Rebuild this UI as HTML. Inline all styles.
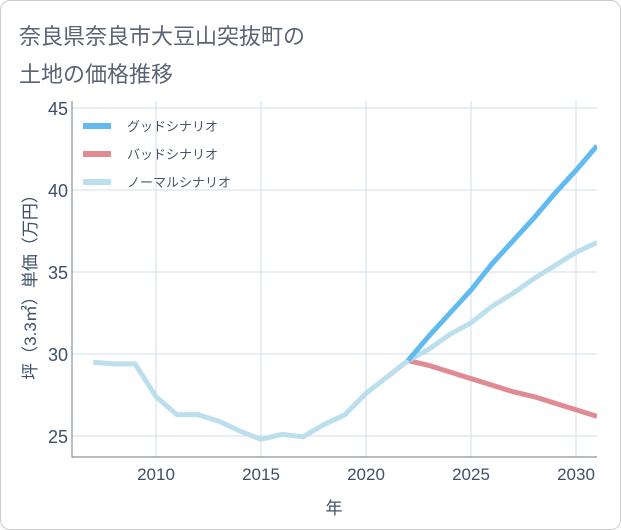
<!DOCTYPE html>
<html><head><meta charset="utf-8"><style>
body{margin:0;background:#fff;}
#card{position:absolute;left:0;top:0;width:619px;height:528px;border:1px solid #ccc;border-radius:10px;background:#fff;}
.title{position:absolute;left:18px;font:22px "Liberation Sans","Noto Sans CJK JP",sans-serif;color:#5a6474;}
text{font-family:"Liberation Sans","Noto Sans CJK JP",sans-serif;}
</style></head><body>
<div id="card">
<div class="title" style="top:18px">奈良県奈良市大豆山突抜町の</div>
<div class="title" style="top:56px">土地の価格推移</div>
</div>
<svg id="chart" width="621" height="530" style="position:absolute;left:0;top:0"></svg>
<script>
const years=[2007,2008,2009,2010,2011,2012,2013,2014,2015,2016,2017,2018,2019,2020,2021,2022,2023,2024,2025,2026,2027,2028,2029,2030,2031];
const normalVals=[29.5,29.4,29.4,27.4,26.3,26.3,25.9,25.3,24.8,25.1,24.95,25.7,26.3,27.6,28.6,29.6,30.3,31.2,31.9,32.9,33.7,34.6,35.4,36.2,36.8];
const goodYears=[2022,2023,2024,2025,2026,2027,2028,2029,2030,2031];
const goodVals=[29.6,31.1,32.5,33.9,35.5,36.9,38.3,39.8,41.2,42.7];
const badYears=[2021,2022,2023,2024,2025,2026,2027,2028,2029,2030,2031];
const badVals=[28.6,29.6,29.3,28.9,28.5,28.1,27.7,27.4,27.0,26.6,26.2];
const xTicks=[2010,2015,2020,2025,2030];
const yTicks=[25,30,35,40,45];
const L=72,R=597,T=101,B=457;
const x=v=>L+(v-2006)*21;
const y=v=>436-(v-25)*16.4;
const svg=document.getElementById('chart');
const NS='http://www.w3.org/2000/svg';
function mk(t,a){const e=document.createElementNS(NS,t);for(const k in a)e.setAttribute(k,a[k]);svg.appendChild(e);return e;}
for(const t of xTicks){
 const g=mk('line',{x1:x(t),x2:x(t),y1:T,y2:B,stroke:'#d3dde8','stroke-width':1});
 
 
 const lb=mk('text',{x:x(t),y:B+23,'text-anchor':'middle','font-size':17,fill:'#3e5068'});lb.textContent=t;
 
 
}
for(const t of yTicks){
 const g=mk('line',{x1:L,x2:R,y1:y(t),y2:y(t),stroke:'#d3dde8','stroke-width':1});
 
 
 const lb=mk('text',{x:L-4,y:y(t)+7,'text-anchor':'end','font-size':18,fill:'#3e5068'});lb.textContent=t;
 
 
}
const ax=mk('path',{d:`M${L} ${T}V${B}H${R}`,stroke:'#8a929c','stroke-width':1.2,fill:'none'});


function line(xs,vs,c,name){
 const p=mk('polyline',{points:xs.map((v,i)=>x(v)+','+y(vs[i])).join(' '),fill:'none',stroke:c,'stroke-width':5,'stroke-linejoin':'round'});
 
 
}
const clip=mk('clipPath',{id:'c'});const cr=document.createElementNS(NS,'rect');
cr.setAttribute('x',L);cr.setAttribute('y',T);cr.setAttribute('width',R-L);cr.setAttribute('height',B-T);clip.appendChild(cr);
line(badYears,badVals,'#e08a94','bad-scenario-line');
line(years,normalVals,'#bcdfee','normal-scenario-line');
line(goodYears,goodVals,'#62bbf0','good-scenario-line');
document.querySelectorAll('polyline').forEach(p=>p.setAttribute('clip-path','url(#c)'));
const leg=[['グッドシナリオ','#62bbf0'],['バッドシナリオ','#e08a94'],['ノーマルシナリオ','#bcdfee']];
leg.forEach((l,i)=>{
 const yy=126+i*28;
 const s=mk('line',{x1:83,x2:111,y1:yy,y2:yy,stroke:l[1],'stroke-width':6});
 
 
 const t=mk('text',{x:127,y:yy+5,'font-size':13,fill:'#4a5668'});t.textContent=l[0];
 
 
});
const xt=mk('text',{x:334,y:514,'text-anchor':'middle','font-size':17,fill:'#3e5068'});xt.textContent='年';


const yt=mk('text',{x:0,y:0,'text-anchor':'middle','font-size':17,fill:'#3e5068',transform:'translate(36,283) rotate(-90)'});yt.textContent='坪（3.3㎡）単価（万円）';


</script>
</body></html>
